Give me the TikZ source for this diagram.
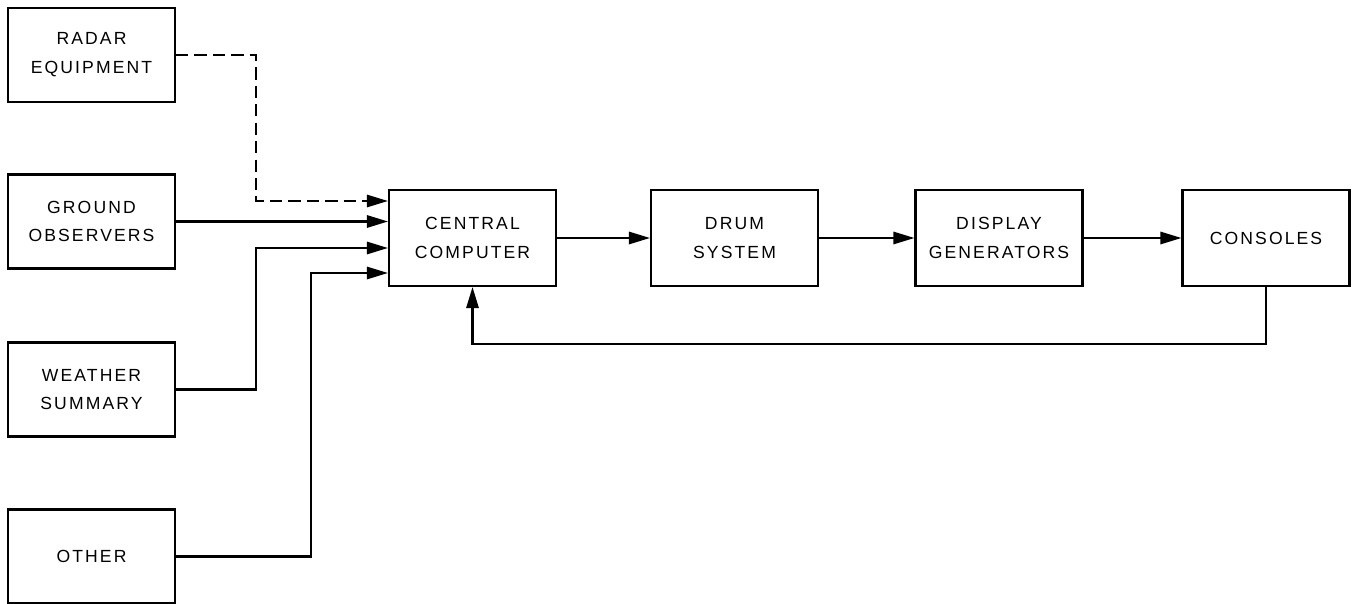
\documentclass[tikz,border=0pt]{standalone}
\usepackage{fontspec}
\usepackage{tikz}
\usetikzlibrary{positioning, arrows.meta, calc}
\newfontfamily\boxfont[LetterSpace=12]{Liberation Sans}

\begin{document}
\begin{tikzpicture}[x=0.02cm, y=-0.02cm,
    box/.style={draw, line width=1.2pt, minimum width=3.34cm, minimum height=1.88cm,
                inner sep=0pt, align=center,
                font=\boxfont\fontsize{10}{16.4}\selectfont},
    mainbox/.style={box, minimum height=1.92cm},
    flow/.style={line width=1.2pt, -{Triangle[length=12pt, width=7pt]}}]
\useasboundingbox (0,0) rectangle (1355,604);
% input sources
\node[box] (radar)   at (91.5,55)    {RADAR\\EQUIPMENT};
\node[box] (ground)  at (91.5,221.5) {GROUND\\OBSERVERS};
\node[box] (weather) at (91.5,389.5) {WEATHER\\SUMMARY};
\node[box] (other)   at (91.5,556.5) {OTHER};
% main chain
\node[mainbox] (central)  at (472.5,238) {CENTRAL\\COMPUTER};
\node[mainbox] (drum)     at (734.5,238) {DRUM\\SYSTEM};
\node[mainbox] (display)  at (999,238)   {DISPLAY\\GENERATORS};
\node[mainbox] (consoles) at (1266,238)  {CONSOLES};
% inputs to central computer
\draw[flow, dashed, dash pattern=on 7pt off 3.5pt]
    (radar.east) -| (256,201) -- (central.west |- 0,201);
\draw[flow] (ground.east) -- (ground.east -| central.west);
\draw[flow] (weather.east) -| (256,248) -- (central.west |- 0,248);
\draw[flow] (other.east) -| (311,273) -- (central.west |- 0,273);
% chain
\draw[flow] (central) -- (drum);
\draw[flow] (drum) -- (display);
\draw[flow] (display) -- (consoles);
% feedback
\draw[flow] (consoles.south) -- ++(0,57) -| (central.south);
\end{tikzpicture}
\end{document}
